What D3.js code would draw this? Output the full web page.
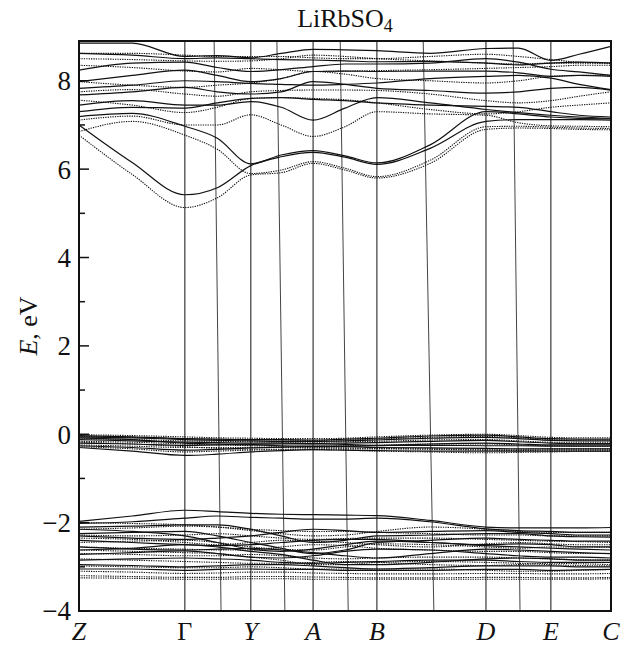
<!DOCTYPE html>
<html>
<head>
<meta charset="utf-8">
<script src="https://cdn.jsdelivr.net/npm/d3@7/dist/d3.min.js"></script>
<style>
  html, body { margin: 0; padding: 0; background: #fff; }
  svg { display: block; }
  text { font-family: "Liberation Serif", "Times New Roman", serif; fill: #111; }
</style>
</head>
<body>
<svg id="chart" width="624" height="648"></svg>
<script>
// ---- k-path sampling (fraction of path length) ----
const kGrid = [0, 0.1, 0.199, 0.26, 0.323, 0.38, 0.44, 0.5, 0.56, 0.66, 0.765, 0.826, 0.887, 0.94, 1.0];

// high-symmetry points
const symLabels = ["Z", "Γ", "Y", "A", "B", "D", "E", "C"];
const symK = [0, 0.199, 0.323, 0.44, 0.56, 0.765, 0.887, 1.0];
const symItalic = [true, false, true, true, true, true, true, true];

// second (slanted) set of boundary lines
const slantTopK = [0.254, 0.372, 0.491, 0.647, 0.816];
const slantBottomK = [0.267, 0.387, 0.506, 0.667, 0.829];

// y ticks
const yMajorTicks = [-4, -2, 0, 2, 4, 6, 8];
const yMinorTicks = [-3, -1, 1, 3, 5, 7];
const yDomain = [-4, 8.9];

// ---- conduction bands, solid ----
const condSolid = [
  [8.85, 8.85, 8.55, 8.57, 8.52, 8.62, 8.71, 8.70, 8.68, 8.62, 8.73, 8.74, 8.46, 8.60, 8.78],
  [8.62, 8.58, 8.50, 8.52, 8.50, 8.48, 8.47, 8.45, 8.43, 8.44, 8.40, 8.36, 8.40, 8.42, 8.40],
  [8.24, 8.40, 8.42, 8.30, 8.21, 8.25, 8.32, 8.38, 8.38, 8.40, 8.50, 8.42, 8.26, 8.20, 8.12],
  [7.98, 8.12, 8.24, 8.12, 7.98, 8.05, 8.21, 8.22, 8.21, 8.22, 8.22, 8.18, 8.10, 8.12, 8.10],
  [7.83, 7.90, 8.00, 7.98, 7.94, 7.92, 7.90, 7.92, 7.95, 8.05, 8.10, 8.12, 8.06, 7.92, 7.80],
  [7.68, 7.75, 7.85, 7.75, 7.70, 7.75, 7.98, 7.92, 7.83, 7.78, 7.72, 7.75, 7.83, 7.85, 7.79],
  [7.45, 7.55, 7.45, 7.45, 7.53, 7.40, 7.11, 7.38, 7.62, 7.50, 7.35, 7.28, 7.22, 7.18, 7.15],
  [7.30, 7.40, 7.38, 7.50, 7.60, 7.62, 7.58, 7.55, 7.50, 7.45, 7.42, 7.40, 7.30, 7.22, 7.18],
  [7.19, 7.26, 6.97, 6.70, 6.12, 6.32, 6.42, 6.30, 6.14, 6.55, 7.30, 7.25, 7.18, 7.15, 7.14],
  [7.00, 6.15, 5.42, 5.58, 6.08, 6.28, 6.38, 6.27, 6.11, 6.47, 7.08, 7.12, 7.12, 7.12, 7.11]
];

// ---- conduction bands, dotted ----
const condDotted = [
  [6.77, 5.88, 5.13, 5.35, 5.87, 5.92, 6.13, 5.98, 5.80, 6.13, 6.90, 6.93, 6.92, 6.90, 6.89],
  [6.85, 7.08, 6.77, 6.45, 5.90, 5.98, 6.17, 6.02, 5.83, 6.20, 6.96, 6.97, 6.95, 6.93, 6.92],
  [7.11, 7.20, 7.00, 7.00, 7.23, 7.00, 6.74, 6.96, 7.30, 7.25, 7.22, 7.05, 6.98, 6.97, 6.96],
  [7.56, 7.45, 7.28, 7.40, 7.60, 7.62, 7.60, 7.57, 7.50, 7.35, 7.25, 7.30, 7.40, 7.45, 7.50],
  [7.75, 7.80, 7.70, 7.65, 7.75, 7.78, 7.79, 7.79, 7.78, 7.70, 7.55, 7.50, 7.55, 7.65, 7.75],
  [7.98, 7.90, 7.85, 7.90, 7.95, 8.05, 8.21, 8.15, 8.05, 8.00, 7.95, 8.00, 8.10, 8.12, 8.13],
  [8.35, 8.30, 8.22, 8.20, 8.28, 8.25, 8.21, 8.22, 8.23, 8.25, 8.28, 8.30, 8.32, 8.35, 8.35],
  [8.50, 8.48, 8.45, 8.44, 8.45, 8.50, 8.58, 8.55, 8.50, 8.45, 8.40, 8.38, 8.40, 8.40, 8.40],
  [8.62, 8.62, 8.58, 8.55, 8.55, 8.55, 8.52, 8.50, 8.50, 8.55, 8.60, 8.55, 8.48, 8.42, 8.40]
];

// ---- upper valence bands ----
const upperValSolid = [
  [-0.03, -0.06, -0.10, -0.11, -0.12, -0.12, -0.13, -0.11, -0.09, -0.04, -0.02, -0.06, -0.10, -0.11, -0.11],
  [-0.06, -0.08, -0.12, -0.14, -0.15, -0.16, -0.16, -0.15, -0.13, -0.09, -0.07, -0.10, -0.14, -0.15, -0.15],
  [-0.12, -0.15, -0.18, -0.19, -0.20, -0.20, -0.21, -0.20, -0.19, -0.16, -0.14, -0.17, -0.20, -0.21, -0.21],
  [-0.20, -0.22, -0.25, -0.24, -0.23, -0.22, -0.22, -0.23, -0.25, -0.25, -0.26, -0.26, -0.27, -0.27, -0.27],
  [-0.26, -0.30, -0.36, -0.34, -0.31, -0.29, -0.28, -0.28, -0.30, -0.31, -0.32, -0.33, -0.33, -0.33, -0.33],
  [-0.30, -0.38, -0.48, -0.45, -0.40, -0.37, -0.35, -0.36, -0.37, -0.38, -0.38, -0.38, -0.38, -0.38, -0.38],
  [-0.08, -0.12, -0.20, -0.22, -0.24, -0.26, -0.27, -0.27, -0.26, -0.22, -0.20, -0.22, -0.24, -0.24, -0.24]
];
const upperValDotted = [
  [-0.01, -0.03, -0.06, -0.08, -0.09, -0.10, -0.10, -0.09, -0.06, -0.02, 0.00, -0.03, -0.07, -0.08, -0.08],
  [-0.05, -0.07, -0.10, -0.12, -0.13, -0.13, -0.14, -0.13, -0.11, -0.07, -0.05, -0.08, -0.12, -0.13, -0.13],
  [-0.10, -0.12, -0.15, -0.16, -0.17, -0.18, -0.18, -0.17, -0.16, -0.13, -0.12, -0.15, -0.18, -0.18, -0.18],
  [-0.16, -0.18, -0.22, -0.24, -0.26, -0.27, -0.27, -0.26, -0.25, -0.22, -0.22, -0.24, -0.26, -0.27, -0.27],
  [-0.24, -0.27, -0.30, -0.30, -0.30, -0.30, -0.30, -0.31, -0.32, -0.33, -0.34, -0.34, -0.33, -0.33, -0.33],
  [-0.28, -0.33, -0.40, -0.38, -0.36, -0.35, -0.35, -0.36, -0.38, -0.40, -0.42, -0.41, -0.40, -0.39, -0.39],
  [-0.18, -0.22, -0.28, -0.32, -0.34, -0.34, -0.33, -0.33, -0.33, -0.34, -0.36, -0.37, -0.36, -0.36, -0.36]
];

// ---- lower valence bands ----
const lowerValSolid = [
  [-1.97, -1.85, -1.72, -1.75, -1.79, -1.81, -1.82, -1.83, -1.84, -1.95, -2.10, -2.12, -2.12, -2.12, -2.11],
  [-2.02, -1.98, -1.90, -1.85, -1.88, -1.90, -1.92, -1.92, -1.90, -1.98, -2.14, -2.18, -2.20, -2.22, -2.22],
  [-2.10, -2.08, -2.05, -2.05, -2.15, -2.30, -2.45, -2.40, -2.30, -2.28, -2.25, -2.25, -2.30, -2.32, -2.33],
  [-2.25, -2.22, -2.20, -2.30, -2.45, -2.58, -2.70, -2.62, -2.45, -2.40, -2.35, -2.38, -2.40, -2.42, -2.42],
  [-2.40, -2.45, -2.50, -2.52, -2.50, -2.45, -2.40, -2.38, -2.38, -2.45, -2.50, -2.48, -2.50, -2.55, -2.55],
  [-2.55, -2.60, -2.62, -2.60, -2.58, -2.62, -2.68, -2.75, -2.80, -2.70, -2.60, -2.62, -2.65, -2.68, -2.70],
  [-2.72, -2.68, -2.64, -2.70, -2.78, -2.80, -2.75, -2.65, -2.60, -2.62, -2.70, -2.75, -2.78, -2.78, -2.80],
  [-2.85, -2.82, -2.80, -2.82, -2.85, -2.90, -2.92, -2.90, -2.88, -2.85, -2.85, -2.88, -2.90, -2.90, -2.90],
  [-2.95, -2.97, -3.00, -2.98, -2.95, -2.95, -2.98, -3.02, -3.05, -3.02, -2.98, -2.98, -2.98, -3.00, -3.00],
  [-3.05, -3.05, -3.08, -3.06, -3.05, -3.06, -3.06, -3.08, -3.08, -3.08, -3.06, -3.06, -3.08, -3.07, -3.06],
  [-2.30, -2.35, -2.38, -2.35, -2.30, -2.22, -2.15, -2.18, -2.22, -2.20, -2.18, -2.22, -2.25, -2.28, -2.28],
  [-2.15, -2.20, -2.30, -2.45, -2.60, -2.65, -2.60, -2.50, -2.42, -2.45, -2.52, -2.55, -2.58, -2.60, -2.62],
  [-2.62, -2.58, -2.50, -2.55, -2.65, -2.72, -2.85, -2.95, -2.95, -2.90, -2.82, -2.80, -2.82, -2.85, -2.85]
];
const lowerValDotted = [
  [-2.15, -2.12, -2.08, -2.10, -2.15, -2.18, -2.20, -2.20, -2.22, -2.25, -2.28, -2.28, -2.30, -2.30, -2.30],
  [-2.28, -2.30, -2.28, -2.25, -2.30, -2.35, -2.38, -2.36, -2.35, -2.35, -2.38, -2.40, -2.42, -2.43, -2.45],
  [-2.45, -2.42, -2.40, -2.45, -2.55, -2.60, -2.62, -2.55, -2.48, -2.50, -2.55, -2.58, -2.55, -2.55, -2.56],
  [-2.55, -2.58, -2.60, -2.62, -2.62, -2.55, -2.50, -2.52, -2.58, -2.62, -2.65, -2.65, -2.68, -2.70, -2.70],
  [-2.70, -2.72, -2.75, -2.75, -2.72, -2.75, -2.80, -2.82, -2.80, -2.78, -2.78, -2.80, -2.82, -2.84, -2.85],
  [-2.82, -2.85, -2.88, -2.90, -2.92, -2.92, -2.90, -2.88, -2.90, -2.95, -2.97, -2.95, -2.92, -2.93, -2.95],
  [-2.98, -3.00, -3.02, -3.02, -3.00, -3.02, -3.05, -3.05, -3.05, -3.05, -3.08, -3.10, -3.10, -3.08, -3.06],
  [-3.10, -3.12, -3.15, -3.14, -3.12, -3.12, -3.14, -3.15, -3.16, -3.16, -3.15, -3.15, -3.16, -3.16, -3.15],
  [-3.20, -3.22, -3.24, -3.24, -3.22, -3.22, -3.23, -3.24, -3.25, -3.25, -3.24, -3.24, -3.25, -3.25, -3.24],
  [-3.25, -3.26, -3.28, -3.28, -3.27, -3.27, -3.28, -3.28, -3.28, -3.28, -3.28, -3.28, -3.28, -3.28, -3.27],
  [-2.00, -2.02, -2.05, -2.10, -2.18, -2.25, -2.30, -2.28, -2.20, -2.10, -2.15, -2.20, -2.22, -2.22, -2.22],
  [-2.35, -2.38, -2.45, -2.50, -2.45, -2.40, -2.42, -2.45, -2.50, -2.55, -2.48, -2.45, -2.48, -2.50, -2.50],
  [-2.62, -2.65, -2.68, -2.70, -2.78, -2.85, -2.95, -2.95, -2.90, -2.88, -2.90, -2.92, -2.95, -2.97, -2.98]
];

// ---- drawing ----
const svg = d3.select("#chart");
const plot = { left: 79, right: 611, top: 41, bottom: 611 };

const x = d3.scaleLinear().domain([0, 1]).range([plot.left, plot.right]);
const y = d3.scaleLinear().domain(yDomain).range([plot.bottom, plot.top]);

svg.append("defs").append("clipPath").attr("id", "clip")
  .append("rect")
  .attr("x", plot.left).attr("y", plot.top)
  .attr("width", plot.right - plot.left).attr("height", plot.bottom - plot.top);

const line = d3.line()
  .x((d, i) => x(kGrid[i]))
  .y(d => y(d))
  .curve(d3.curveMonotoneX);

const g = svg.append("g").attr("clip-path", "url(#clip)");

// vertical high-symmetry lines
g.selectAll("line.sym")
  .data(symK.slice(1, -1))
  .join("line")
  .attr("class", "sym")
  .attr("x1", d => x(d)).attr("x2", d => x(d))
  .attr("y1", plot.top).attr("y2", plot.bottom)
  .attr("stroke", "#111").attr("stroke-width", 1);

g.selectAll("line.slant")
  .data(slantTopK.map((t, i) => [t, slantBottomK[i]]))
  .join("line")
  .attr("class", "slant")
  .attr("x1", d => x(d[0])).attr("x2", d => x(d[1]))
  .attr("y1", plot.top).attr("y2", plot.bottom)
  .attr("stroke", "#444").attr("stroke-width", 1);

const dottedSets = [condDotted, upperValDotted, lowerValDotted];
const solidSets = [condSolid, upperValSolid, lowerValSolid];

dottedSets.forEach(set => {
  g.append("g").selectAll("path")
    .data(set)
    .join("path")
    .attr("d", line)
    .attr("fill", "none")
    .attr("stroke", "#111")
    .attr("stroke-width", 1.1)
    .attr("stroke-dasharray", "1.3,1.1");
});

solidSets.forEach(set => {
  g.append("g").selectAll("path")
    .data(set)
    .join("path")
    .attr("d", line)
    .attr("fill", "none")
    .attr("stroke", "#111")
    .attr("stroke-width", 1.2);
});

// frame
svg.append("rect")
  .attr("x", plot.left).attr("y", plot.top)
  .attr("width", plot.right - plot.left).attr("height", plot.bottom - plot.top)
  .attr("fill", "none").attr("stroke", "#111").attr("stroke-width", 2);

// y ticks (inward)
svg.selectAll("line.ymaj")
  .data(yMajorTicks)
  .join("line")
  .attr("x1", plot.left).attr("x2", plot.left + 10)
  .attr("y1", d => y(d)).attr("y2", d => y(d))
  .attr("stroke", "#111").attr("stroke-width", 1.5);
svg.selectAll("line.ymin")
  .data(yMinorTicks)
  .join("line")
  .attr("x1", plot.left).attr("x2", plot.left + 6)
  .attr("y1", d => y(d)).attr("y2", d => y(d))
  .attr("stroke", "#111").attr("stroke-width", 1.5);

svg.selectAll("text.ytick")
  .data(yMajorTicks)
  .join("text")
  .attr("class", "ytick")
  .attr("x", plot.left - 8)
  .attr("y", d => y(d))
  .attr("dy", "0.35em")
  .attr("text-anchor", "end")
  .attr("font-size", 27)
  .text(d => d < 0 ? "\u2212" + Math.abs(d) : String(d));

// x labels
svg.selectAll("text.xlab")
  .data(symLabels)
  .join("text")
  .attr("class", "xlab")
  .attr("x", (d, i) => x(symK[i]))
  .attr("y", 640)
  .attr("text-anchor", "middle")
  .attr("font-size", 26)
  .attr("font-style", (d, i) => symItalic[i] ? "italic" : "normal")
  .text(d => d);

// y axis title
const yt = svg.append("text")
  .attr("transform", `translate(37, ${(plot.top + plot.bottom) / 2}) rotate(-90)`)
  .attr("text-anchor", "middle")
  .attr("font-size", 26);
yt.append("tspan").attr("font-style", "italic").text("E");
yt.append("tspan").text(", eV");

// title
const title = svg.append("text")
  .attr("x", (plot.left + plot.right) / 2)
  .attr("y", 27)
  .attr("text-anchor", "middle")
  .attr("font-size", 26);
title.append("tspan").text("LiRbSO");
title.append("tspan").attr("font-size", 18).attr("dy", 5).text("4");
</script>
</body>
</html>
